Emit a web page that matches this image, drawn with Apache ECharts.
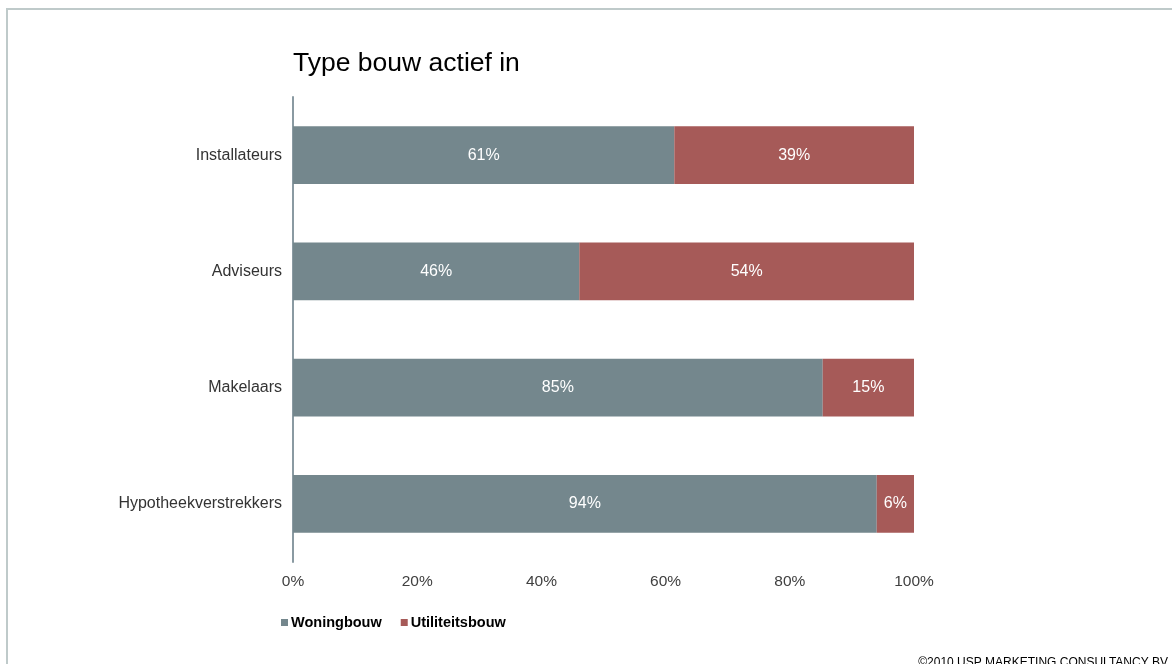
<!DOCTYPE html>
<html>
<head>
<meta charset="utf-8">
<script src="https://cdn.jsdelivr.net/npm/echarts@6/dist/echarts.min.js"></script>
<style>html,body{margin:0;padding:0;background:#fff}#c{width:1172px;height:664px}</style>
</head>
<body>
<div id="c"></div>
<script>
var categories = ['Hypotheekverstrekkers', 'Makelaars', 'Adviseurs', 'Installateurs'];
var woningbouw = [94.0, 85.3, 46.1, 61.4];
var utiliteitsbouw = [6.0, 14.7, 53.9, 38.6];
var xTicks = [0, 20, 40, 60, 80, 100];
var font = 'Liberation Sans, Arial, sans-serif';

var pct = function (p) { return Math.round(p.value) + '%'; };

var chart = echarts.init(document.getElementById('c'));
chart.setOption({
  animation: false,
  backgroundColor: '#fff',
  title: {
    text: 'Type bouw actief in',
    left: 288, top: 45,
    textStyle: {fontFamily: font, fontSize: 26.5, fontWeight: 'normal', color: '#000'}
  },
  legend: {
    left: 276, top: 610,
    itemWidth: 7, itemHeight: 7, itemGap: 19,
    icon: 'rect',
    textStyle: {fontFamily: font, fontSize: 14.5, fontWeight: 'bold', color: '#000', padding: [0, 0, 0, -2]},
    data: ['Woningbouw', 'Utiliteitsbouw']
  },
  grid: {left: 293, right: 258, top: 97, bottom: 102, containLabel: false},
  xAxis: {
    type: 'value', min: 0, max: 100, interval: 20,
    axisLine: {show: false}, axisTick: {show: false}, splitLine: {show: false},
    axisLabel: {formatter: function (v) { return xTicks.indexOf(v) >= 0 ? v + '%' : ''; }, margin: 12, fontFamily: font, fontSize: 15.5, color: '#404040'}
  },
  yAxis: {
    type: 'category', data: categories,
    axisLine: {show: true, lineStyle: {color: '#8a9aa2', width: 2}},
    axisTick: {show: false},
    axisLabel: {margin: 11, fontFamily: font, fontSize: 16, color: '#333'}
  },
  series: [
    {
      name: 'Woningbouw', type: 'bar', stack: 'a', barWidth: '49.5%',
      data: woningbouw,
      itemStyle: {color: '#74878d'},
      label: {show: true, position: 'inside', formatter: pct, color: '#fff', fontFamily: font, fontSize: 16}
    },
    {
      name: 'Utiliteitsbouw', type: 'bar', stack: 'a', barWidth: '49.5%',
      data: utiliteitsbouw,
      itemStyle: {color: '#a65a58'},
      label: {show: true, position: 'inside', formatter: pct, color: '#fff', fontFamily: font, fontSize: 16}
    }
  ],
  graphic: [
    {type: 'line', shape: {x1: 7, y1: 9, x2: 1172, y2: 9}, style: {stroke: '#bfcaca', lineWidth: 2}},
    {type: 'line', shape: {x1: 7, y1: 8, x2: 7, y2: 664}, style: {stroke: '#bfcaca', lineWidth: 2}},
    {type: 'text', right: 4, top: 657, style: {text: '©2010 USP MARKETING CONSULTANCY BV', fontFamily: font, fontSize: 12, fill: '#000'}}
  ]
});
</script>
</body>
</html>
